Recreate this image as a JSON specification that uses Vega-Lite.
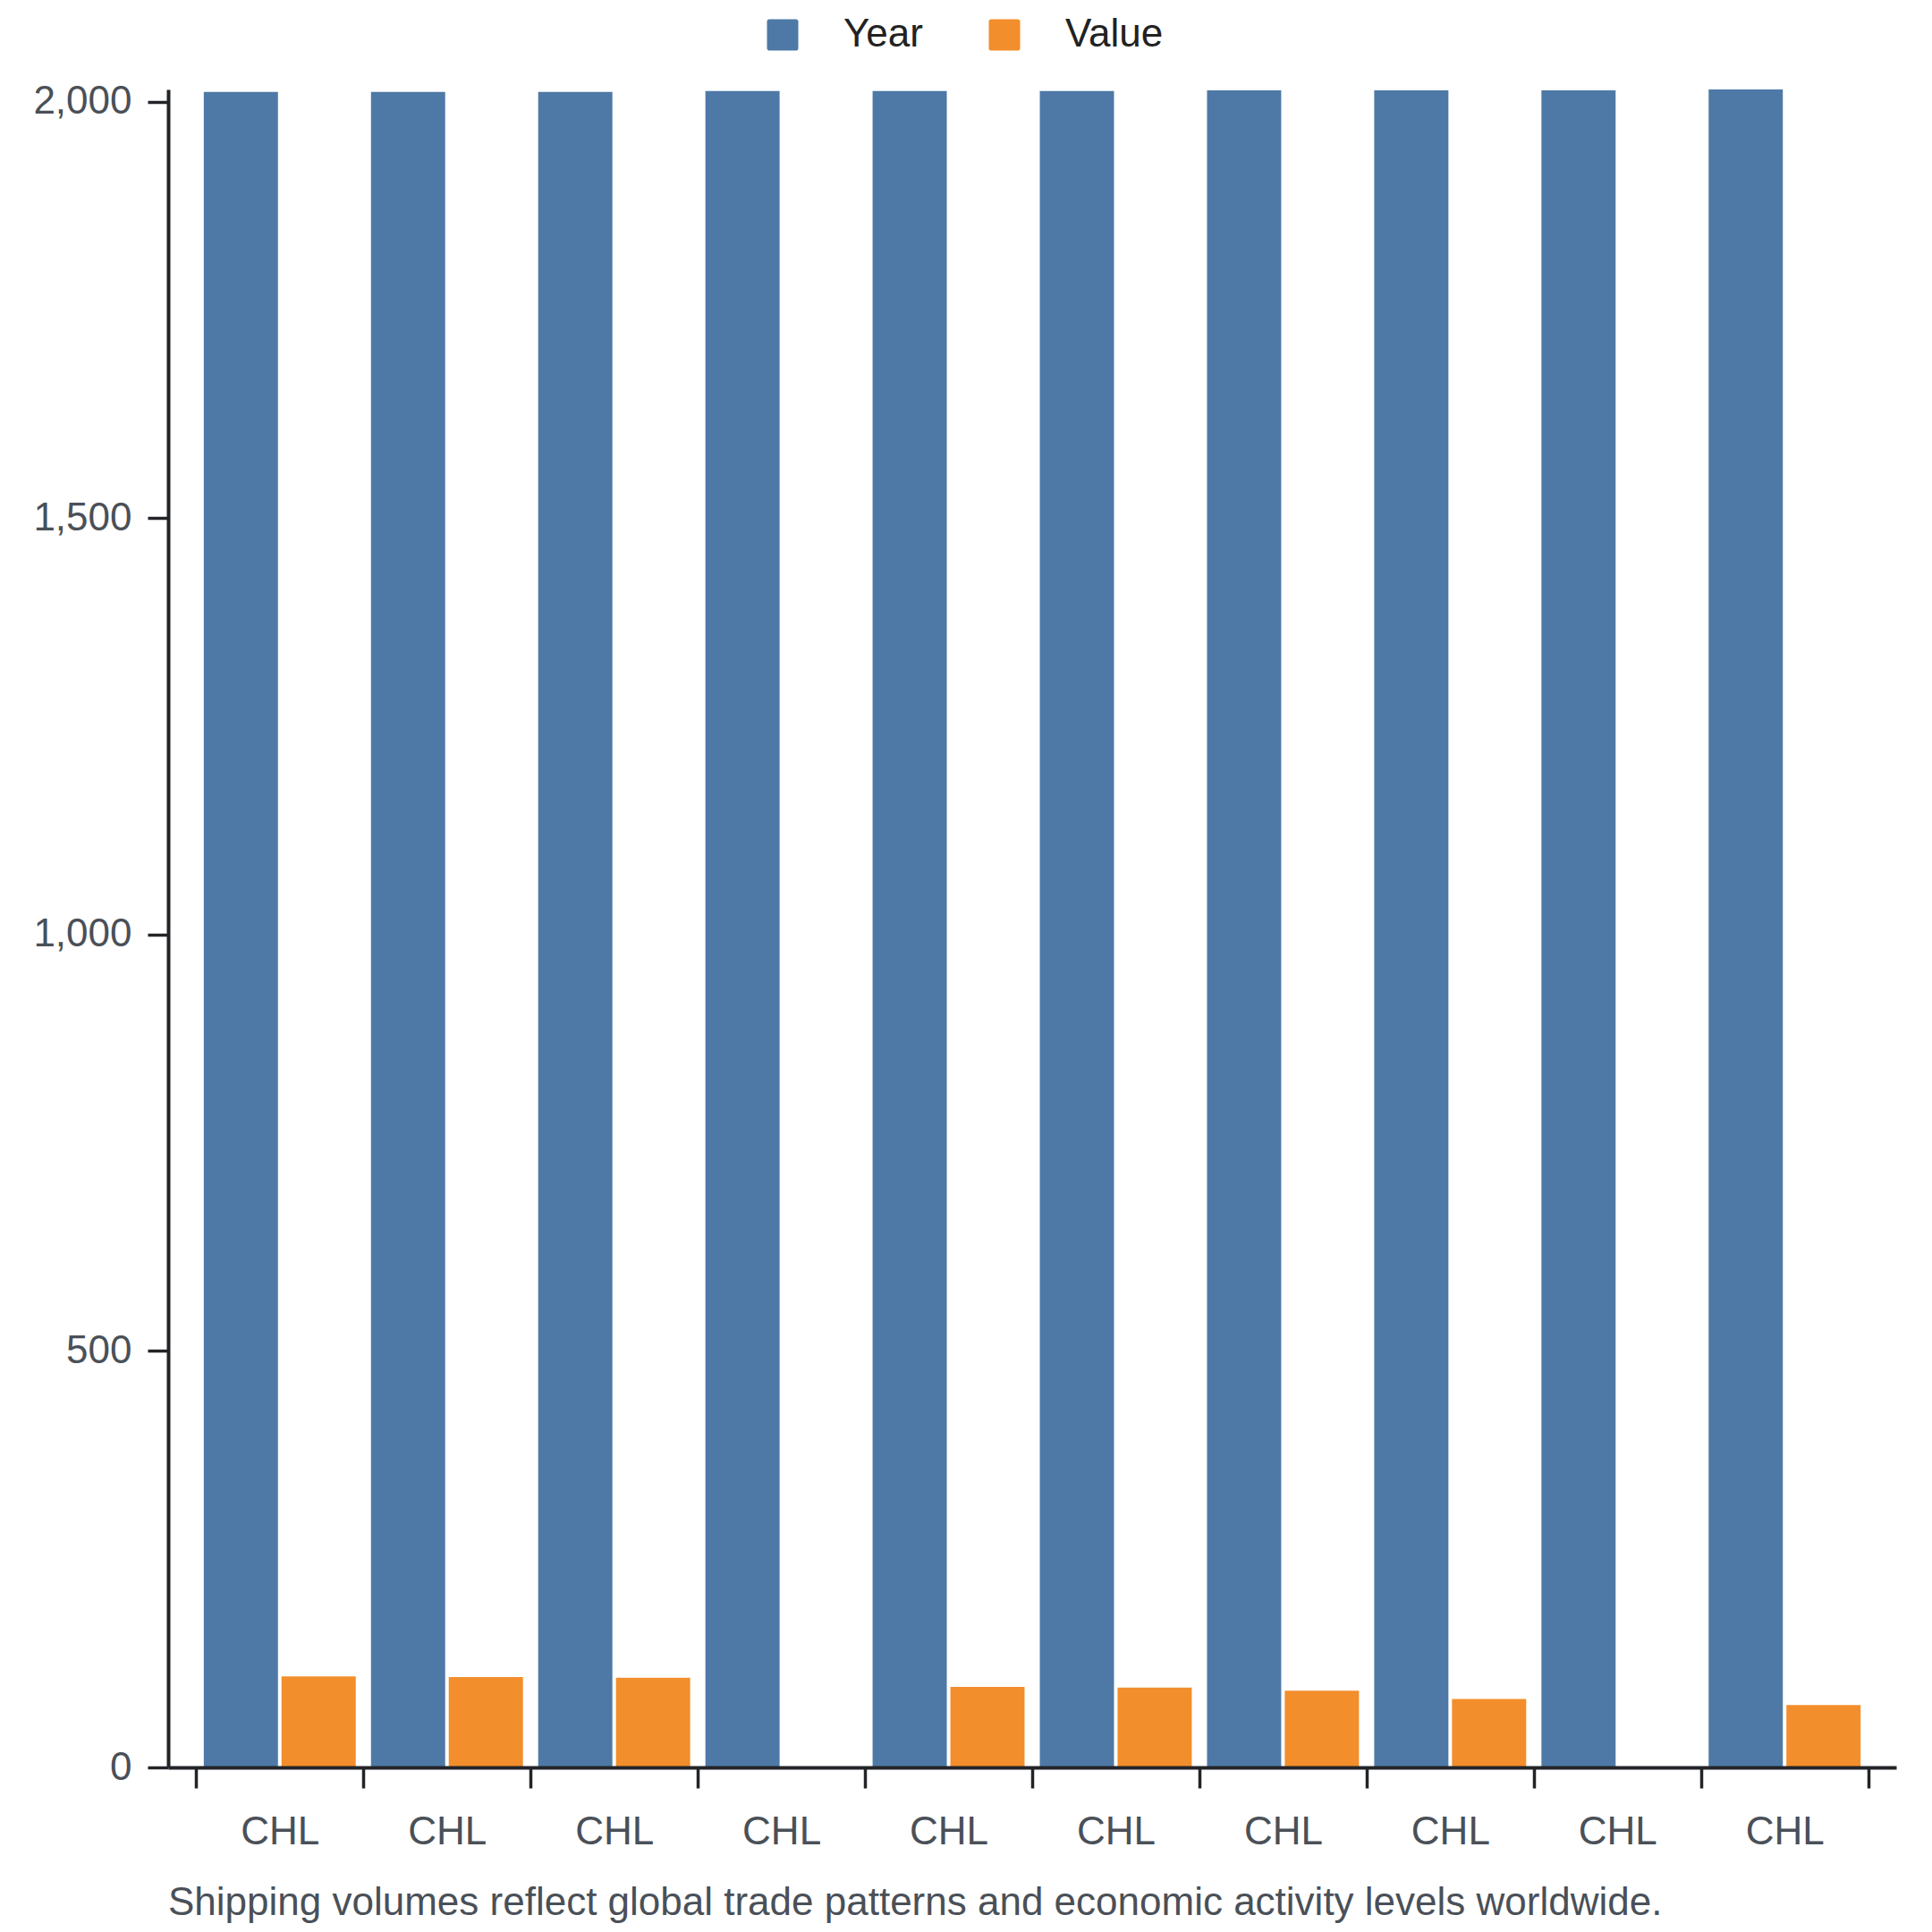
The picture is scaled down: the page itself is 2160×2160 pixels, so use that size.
{
  "$schema": "https://vega.github.io/schema/vega-lite/v6.json",
  "width": 1932,
  "height": 1876,
  "autosize": {"type": "none"},
  "padding": {"left": 188, "top": 100, "right": 40, "bottom": 184},
  "background": "white",
  "title": {
    "text": "Shipping volumes reflect global trade patterns and economic activity levels worldwide.",
    "orient": "bottom",
    "anchor": "start",
    "frame": "group",
    "offset": 36,
    "font": "Liberation Sans",
    "fontSize": 44,
    "fontWeight": "normal",
    "color": "#4a5058"
  },
  "data": {
    "values": [
      {"key": "CHL-1", "series": "Year", "amount": 2012},
      {"key": "CHL-1", "series": "Value", "amount": 109.2},
      {"key": "CHL-2", "series": "Year", "amount": 2012},
      {"key": "CHL-2", "series": "Value", "amount": 108.5},
      {"key": "CHL-3", "series": "Year", "amount": 2012},
      {"key": "CHL-3", "series": "Value", "amount": 107.8},
      {"key": "CHL-4", "series": "Year", "amount": 2013},
      {"key": "CHL-4", "series": "Value", "amount": null},
      {"key": "CHL-5", "series": "Year", "amount": 2013},
      {"key": "CHL-5", "series": "Value", "amount": 96.7},
      {"key": "CHL-6", "series": "Year", "amount": 2013},
      {"key": "CHL-6", "series": "Value", "amount": 95.9},
      {"key": "CHL-7", "series": "Year", "amount": 2014},
      {"key": "CHL-7", "series": "Value", "amount": 92},
      {"key": "CHL-8", "series": "Year", "amount": 2014},
      {"key": "CHL-8", "series": "Value", "amount": 82.3},
      {"key": "CHL-9", "series": "Year", "amount": 2014},
      {"key": "CHL-9", "series": "Value", "amount": null},
      {"key": "CHL-10", "series": "Year", "amount": 2015},
      {"key": "CHL-10", "series": "Value", "amount": 75}
    ]
  },
  "mark": {"type": "bar"},
  "encoding": {
    "x": {
      "field": "key",
      "type": "nominal",
      "sort": null,
      "scale": {"paddingInner": 0, "paddingOuter": 0.1675},
      "axis": {
        "title": null,
        "labelAngle": 0,
        "tickBand": "extent",
        "labelExpr": "split(datum.label, '-')[0]",
        "labelPadding": 27,
        "zindex": 1
      }
    },
    "xOffset": {
      "field": "series",
      "type": "nominal",
      "sort": ["Year", "Value"],
      "scale": {"paddingInner": 0.046, "paddingOuter": 0.098}
    },
    "y": {
      "field": "amount",
      "type": "quantitative",
      "scale": {"nice": false, "zero": true},
      "axis": {
        "title": null,
        "values": [0, 500, 1000, 1500, 2000],
        "format": ",.0f",
        "labelPadding": 18,
        "zindex": 1
      }
    },
    "color": {
      "field": "series",
      "type": "nominal",
      "sort": ["Year", "Value"],
      "scale": {"domain": ["Year", "Value"], "range": ["#4e79a7", "#f28e2b"]},
      "legend": {
        "title": null,
        "orient": "none",
        "direction": "horizontal",
        "legendX": 665,
        "legendY": -83,
        "symbolType": "M-0.84,-1H0.84Q1,-1 1,-0.84V0.84Q1,1 0.84,1H-0.84Q-1,1 -1,0.84V-0.84Q-1,-1 -0.84,-1Z",
        "symbolSize": 1225,
        "symbolStrokeWidth": 0,
        "labelFont": "Liberation Sans",
        "labelFontSize": 44,
        "labelColor": "#222222",
        "labelOffset": 46,
        "columnPadding": 69
      }
    }
  },
  "config": {
    "view": {"stroke": null},
    "axis": {
      "grid": false,
      "domainColor": "#222428",
      "domainWidth": 4,
      "tickColor": "#222428",
      "tickWidth": 3.5,
      "tickSize": 23,
      "labelFont": "Liberation Sans",
      "labelFontSize": 44,
      "labelColor": "#4a5058"
    }
  }
}
